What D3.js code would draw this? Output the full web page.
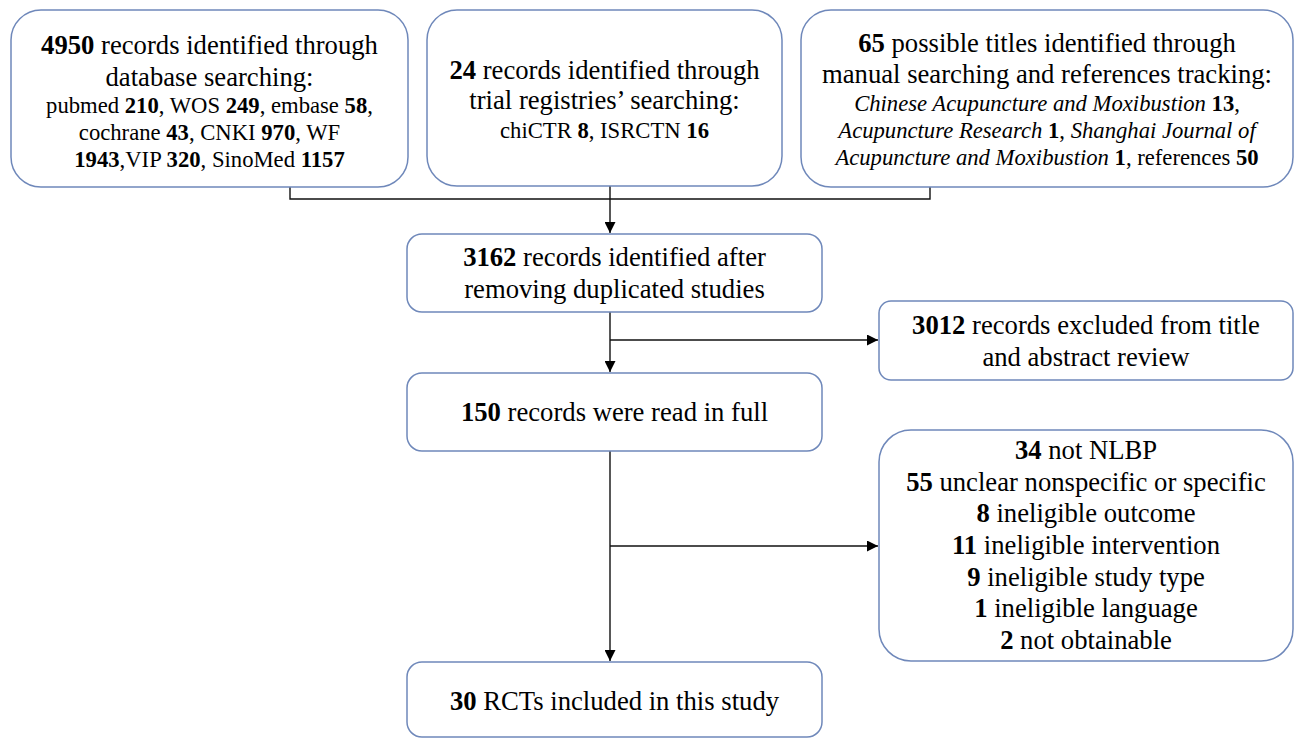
<!DOCTYPE html>
<html>
<head>
<meta charset="utf-8">
<script src="https://cdn.jsdelivr.net/npm/d3@7"></script>
<style>
  html, body { margin: 0; padding: 0; background: #fff; }
  svg text { font-family: "Liberation Serif", "Times New Roman", serif; white-space: pre; fill: #000; }
</style>
</head>
<body>
<svg id="flow" width="1294" height="738"></svg>
<script>
// box texts (** = bold, _ = italic)
var dbLines = ["**4950** records identified through", "database searching:",
  "pubmed **210**, WOS **249**, embase **58**,", "cochrane **43**, CNKI **970**, WF", "**1943**,VIP **320**, SinoMed **1157**"];
var regLines = ["**24** records identified through", "trial registries\u2019 searching:", "chiCTR **8**, ISRCTN **16**"];
var manualLines = ["**65** possible titles identified through", "manual searching and references tracking:",
  "_Chinese Acupuncture and Moxibustion_ **13**,", "_Acupuncture Research_ **1**, _Shanghai Journal of_",
  "_Acupuncture and Moxibustion_ **1**, references **50**"];
var dedupLines = ["**3162** records identified after", "removing duplicated studies"];
var screenExclLines = ["**3012** records excluded from title", "and abstract review"];
var fullLines = ["**150** records were read in full"];
var fullExclLines = ["**34** not NLBP", "**55** unclear nonspecific or specific", "**8** ineligible outcome",
  "**11** ineligible intervention", "**9** ineligible study type", "**1** ineligible language", "**2** not obtainable"];
var includedLines = ["**30** RCTs included in this study"];

var L = 26.67, S = 22.67;

// layout
var boxes = [
  {lines: dbLines, x: 11, y: 10, w: 397, h: 177, r: 30, base: [54, 86, 113, 140, 167], size: [L, L, S, S, S]},
  {lines: regLines, x: 427, y: 10, w: 355, h: 176, r: 30, base: [79, 109, 138], size: [L, L, S]},
  {lines: manualLines, x: 801, y: 10, w: 492, h: 177, r: 30, base: [52, 83, 111, 138, 165], size: [L, L, S, S, S]},
  {lines: dedupLines, x: 407, y: 234, w: 415, h: 78, r: 15, base: [266, 298], size: [L, L]},
  {lines: screenExclLines, x: 879, y: 301, w: 414, h: 79, r: 12, base: [334, 366], size: [L, L]},
  {lines: fullLines, x: 407, y: 373, w: 415, h: 78, r: 15, base: [421], size: [L]},
  {lines: fullExclLines, x: 879, y: 430, w: 414, h: 231, r: 32, base: [459, 491, 522, 554, 586, 617, 649], size: [L, L, L, L, L, L, L]},
  {lines: includedLines, x: 407, y: 662, w: 415, h: 75, r: 15, base: [710], size: [L]}
];

var svg = d3.select("#flow");

svg.append("defs").append("marker")
  .attr("id", "arr")
  .attr("viewBox", "0 0 10 10")
  .attr("refX", 10).attr("refY", 5)
  .attr("markerUnits", "userSpaceOnUse")
  .attr("markerWidth", 12).attr("markerHeight", 11)
  .attr("orient", "auto")
  .append("path").attr("d", "M0,0L10,5L0,10Z").attr("fill", "#000");

// connectors
var line = d3.line();
var links = [
  {pts: [[290, 187], [290, 199], [930, 199], [930, 187]], arrow: false},
  {pts: [[610, 186], [610, 233]], arrow: true},
  {pts: [[610, 312], [610, 372]], arrow: true},
  {pts: [[610, 340], [878, 340]], arrow: true},
  {pts: [[610, 451], [610, 661]], arrow: true},
  {pts: [[610, 546], [878, 546]], arrow: true}
];
svg.selectAll("path.link")
  .data(links)
  .enter().append("path")
  .attr("class", "link")
  .attr("d", function(d) { return line(d.pts); })
  .attr("fill", "none")
  .attr("stroke", "#111")
  .attr("stroke-width", 1.4)
  .attr("marker-end", function(d) { return d.arrow ? "url(#arr)" : null; });

var g = svg.selectAll("g.box")
  .data(boxes)
  .enter().append("g")
  .attr("class", "box");

g.append("rect")
  .attr("x", function(d) { return d.x; })
  .attr("y", function(d) { return d.y; })
  .attr("width", function(d) { return d.w; })
  .attr("height", function(d) { return d.h; })
  .attr("rx", function(d) { return d.r; })
  .attr("fill", "#fff")
  .attr("stroke", "#6f88ba")
  .attr("stroke-width", 1.5);

function parse(str) {
  return str.split(/(\*\*[^*]+\*\*|_[^_]+_)/).filter(function(s) { return s.length; }).map(function(s) {
    if (s.indexOf("**") === 0) return {t: s.slice(2, -2), b: true};
    if (s[0] === "_") return {t: s.slice(1, -1), i: true};
    return {t: s};
  });
}

g.each(function(d) {
  var box = d3.select(this);
  d.lines.forEach(function(ln, k) {
    var txt = box.append("text")
      .attr("x", d.x + d.w / 2)
      .attr("y", d.base[k])
      .attr("text-anchor", "middle")
      .attr("font-size", d.size[k]);
    txt.selectAll("tspan")
      .data(parse(ln))
      .enter().append("tspan")
      .attr("font-weight", function(s) { return s.b ? "bold" : null; })
      .attr("font-style", function(s) { return s.i ? "italic" : null; })
      .text(function(s) { return s.t; });
  });
});
</script>
</body>
</html>
